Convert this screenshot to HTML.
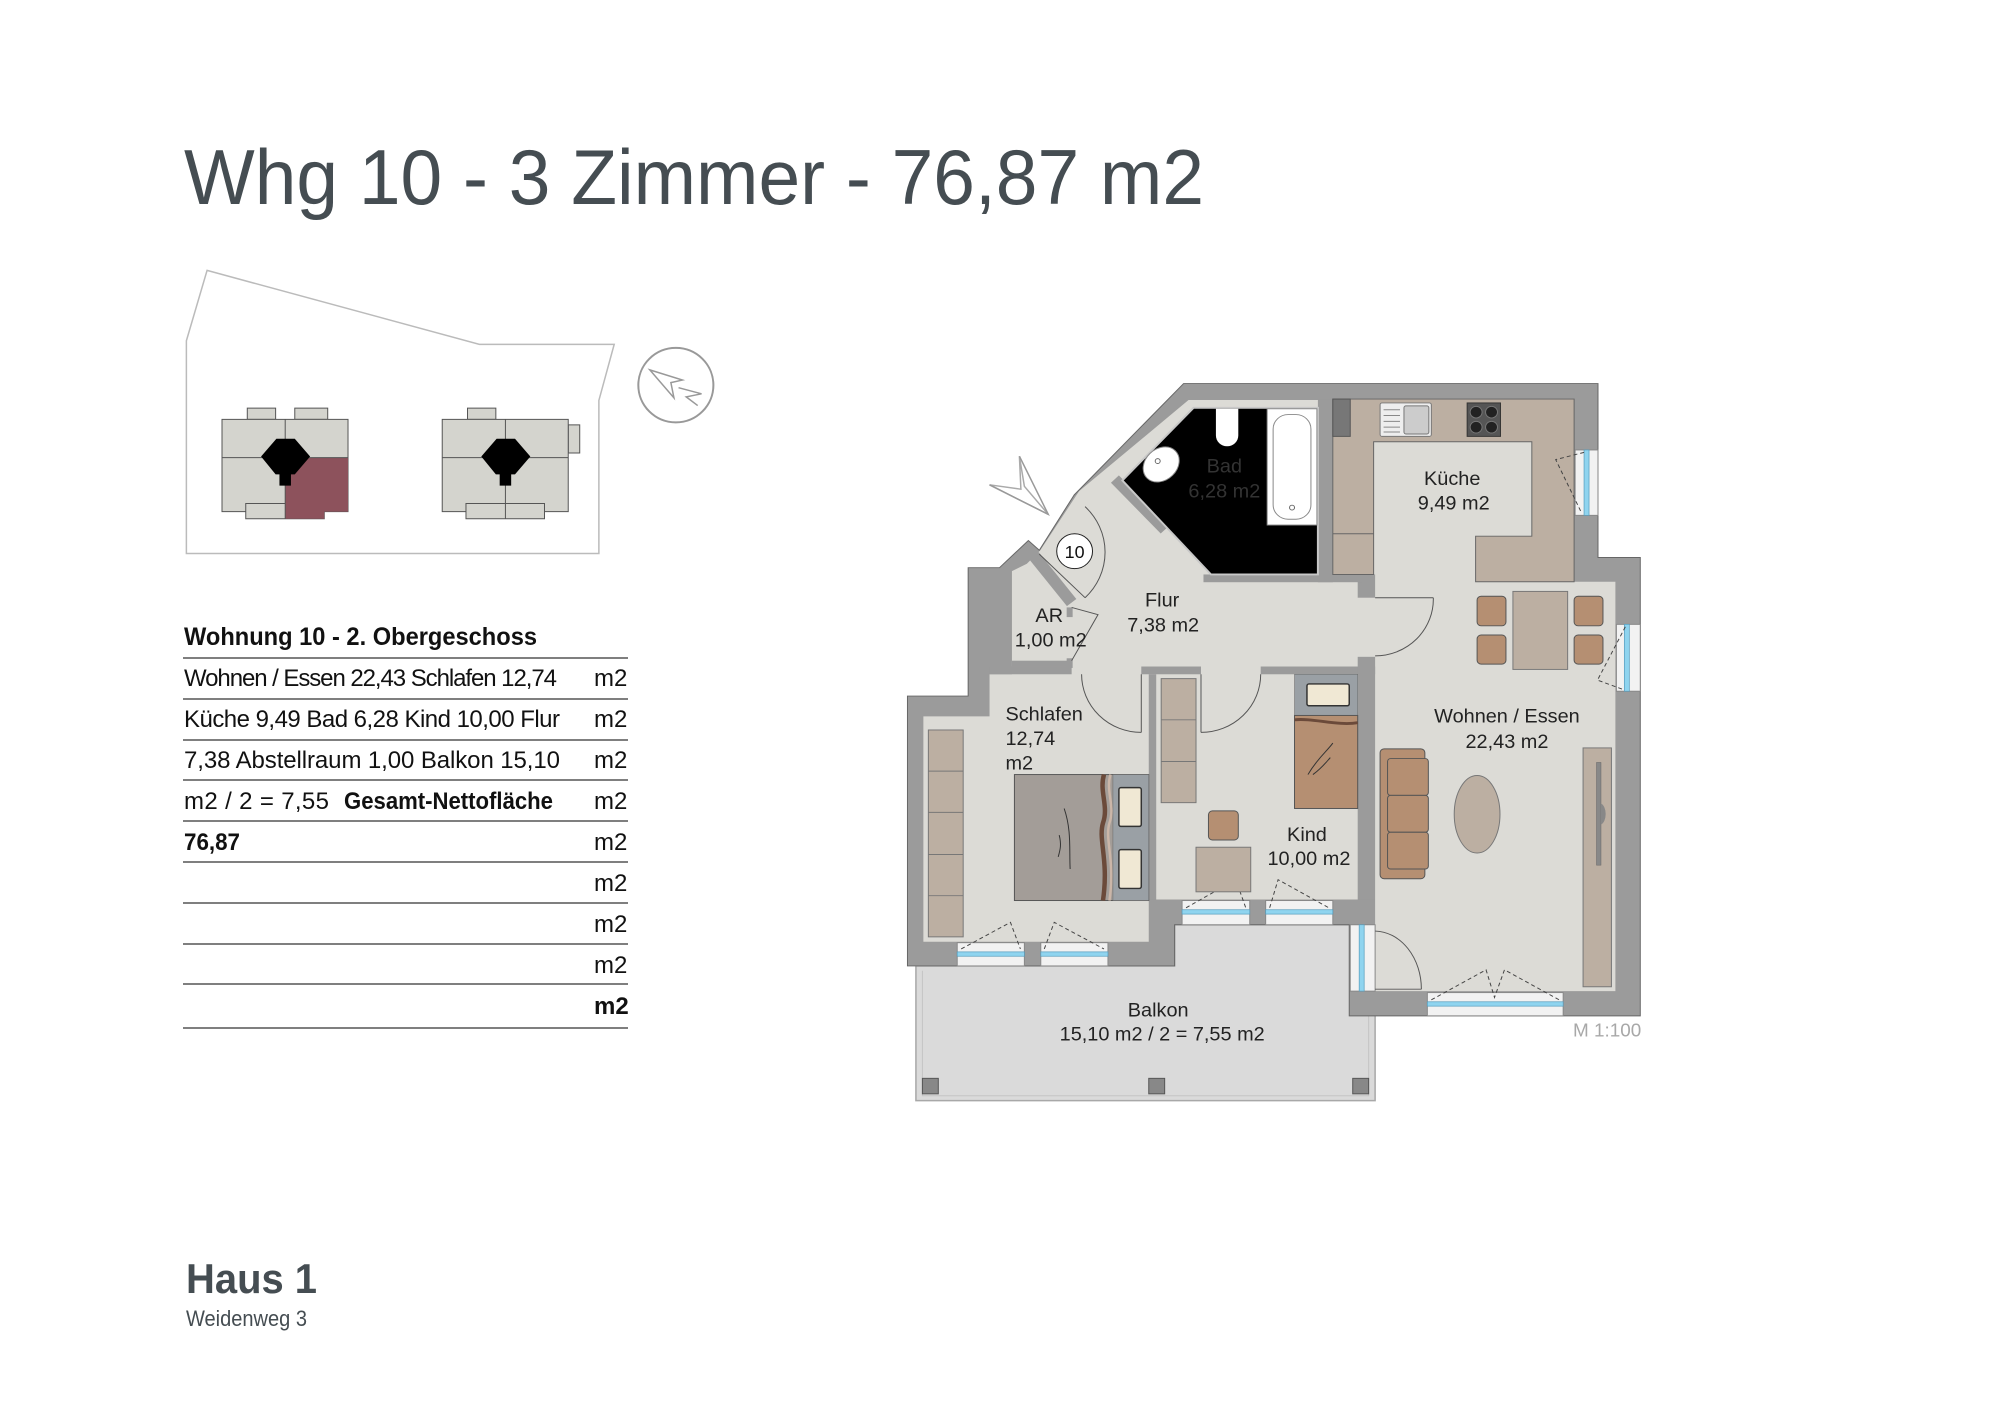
<!DOCTYPE html>
<html><head><meta charset="utf-8"><style>
html,body{margin:0;padding:0;background:#fff;}
svg{display:block;}
text{font-family:"Liberation Sans",sans-serif;}
</style></head><body>
<svg width="2000" height="1414" viewBox="0 0 2000 1414" xmlns="http://www.w3.org/2000/svg">
<rect width="2000" height="1414" fill="#fff"/>
<text x="184" y="204" font-size="78" fill="#454d52" textLength="1020" lengthAdjust="spacingAndGlyphs">Whg 10 - 3 Zimmer - 76,87 m2</text>

<g transform="translate(150,250) scale(0.383,0.51)">
 <polygon points="149,40 860,185 1212,185 1172,295 1172,595 95,595 95,178" fill="none" stroke="#bbb" stroke-width="1.5" vector-effect="non-scaling-stroke"/>
 <g>
  <rect x="254" y="310" width="74" height="22" fill="#d4d4ce" stroke="#555" stroke-width="1" vector-effect="non-scaling-stroke"/>
  <rect x="378" y="310" width="86" height="22" fill="#d4d4ce" stroke="#555" stroke-width="1" vector-effect="non-scaling-stroke"/>
  <rect x="188" y="332" width="329" height="181" fill="#d4d4ce" stroke="#555" stroke-width="1" vector-effect="non-scaling-stroke"/>
  <rect x="250" y="497" width="205" height="30" fill="#d4d4ce" stroke="#555" stroke-width="1" vector-effect="non-scaling-stroke"/>
  <polygon points="353,407 517,407 517,513 455,513 455,527 353,527" fill="#8d525c"/>
  <line x1="188" y1="407" x2="517" y2="407" stroke="#555" stroke-width="1" vector-effect="non-scaling-stroke"/>
  <line x1="353" y1="332" x2="353" y2="527" stroke="#555" stroke-width="1" vector-effect="non-scaling-stroke"/>
  <polygon points="330,370 378,370 418,405 378,440 368,440 368,462 338,462 338,440 328,440 290,405" fill="#000"/>
 </g>
 <g transform="translate(575,0)">
  <rect x="254" y="310" width="74" height="22" fill="#d4d4ce" stroke="#555" stroke-width="1" vector-effect="non-scaling-stroke"/>
  <rect x="517" y="343" width="30" height="55" fill="#d4d4ce" stroke="#555" stroke-width="1" vector-effect="non-scaling-stroke"/>
  <rect x="188" y="332" width="329" height="181" fill="#d4d4ce" stroke="#555" stroke-width="1" vector-effect="non-scaling-stroke"/>
  <rect x="250" y="497" width="205" height="30" fill="#d4d4ce" stroke="#555" stroke-width="1" vector-effect="non-scaling-stroke"/>
  <line x1="188" y1="407" x2="517" y2="407" stroke="#555" stroke-width="1" vector-effect="non-scaling-stroke"/>
  <line x1="353" y1="332" x2="353" y2="527" stroke="#555" stroke-width="1" vector-effect="non-scaling-stroke"/>
  <polygon points="330,370 378,370 418,405 378,440 368,440 368,462 338,462 338,440 328,440 290,405" fill="#000"/>
 </g>
 <ellipse cx="1373" cy="265" rx="98" ry="73" fill="none" stroke="#999" stroke-width="2" vector-effect="non-scaling-stroke"/>
 <polygon points="1305,235 1390,255 1360,260 1368,290" fill="none" stroke="#999" stroke-width="1.5" vector-effect="non-scaling-stroke"/>
 <polyline points="1380,270 1440,282 1400,288 1430,305" fill="none" stroke="#999" stroke-width="1.5" vector-effect="non-scaling-stroke"/>
</g>

<g fill="#111" font-size="24">
 <text x="184" y="645" font-weight="bold" font-size="25" textLength="353" lengthAdjust="spacingAndGlyphs">Wohnung 10 - 2. Obergeschoss</text>
 <text x="184" y="686" textLength="373" lengthAdjust="spacing">Wohnen / Essen 22,43 Schlafen 12,74</text>
 <text x="184" y="727" textLength="376" lengthAdjust="spacing">Küche 9,49 Bad 6,28 Kind 10,00 Flur</text>
 <text x="184" y="768" textLength="376" lengthAdjust="spacing">7,38 Abstellraum 1,00 Balkon 15,10</text>
 <text x="184" y="809" textLength="145" lengthAdjust="spacing">m2 / 2 = 7,55</text>
 <text x="344" y="809" font-weight="bold" textLength="209" lengthAdjust="spacingAndGlyphs">Gesamt-Nettofläche</text>
 <text x="184" y="850" font-weight="bold" textLength="56" lengthAdjust="spacingAndGlyphs">76,87</text>
 <text x="594" y="686">m2</text>
 <text x="594" y="727">m2</text>
 <text x="594" y="768">m2</text>
 <text x="594" y="809">m2</text>
 <text x="594" y="850">m2</text>
 <text x="594" y="891">m2</text>
 <text x="594" y="932">m2</text>
 <text x="594" y="973">m2</text>
 <text x="594" y="1014" font-weight="bold">m2</text>
</g>
<g stroke="#555" stroke-width="1.5">
 <line x1="183" y1="658" x2="628" y2="658"/>
 <line x1="183" y1="699" x2="628" y2="699"/>
 <line x1="183" y1="740" x2="628" y2="740"/>
 <line x1="183" y1="780" x2="628" y2="780"/>
 <line x1="183" y1="821" x2="628" y2="821"/>
 <line x1="183" y1="862" x2="628" y2="862"/>
 <line x1="183" y1="903" x2="628" y2="903"/>
 <line x1="183" y1="944" x2="628" y2="944"/>
 <line x1="183" y1="984" x2="628" y2="984"/>
 <line x1="183" y1="1028" x2="628" y2="1028"/>
</g>

<text x="186" y="1293" font-size="42" font-weight="bold" fill="#454d52" textLength="131" lengthAdjust="spacingAndGlyphs">Haus 1</text>
<text x="186" y="1326" font-size="22" fill="#454d52" textLength="121" lengthAdjust="spacingAndGlyphs">Weidenweg 3</text>

<g transform="translate(900,370) scale(0.4975,0.4845)">
 <polygon points="32,1230 552,1230 552,1145 955,1145 955,1508 32,1508" fill="#dadada" stroke="#a8a8a8" stroke-width="3"/>
 <polyline points="45,1240 45,1498 942,1498 942,1240" fill="none" stroke="#c4c4c4" stroke-width="2"/>
 <rect x="45" y="1462" width="32" height="32" fill="#888" stroke="#555" stroke-width="2"/>
 <rect x="500" y="1462" width="32" height="32" fill="#888" stroke="#555" stroke-width="2"/>
 <rect x="910" y="1462" width="32" height="32" fill="#888" stroke="#555" stroke-width="2"/>
 <polygon points="350,258 570,28 1403,28 1403,387 1488,387 1488,1333 903,1333 903,1145 552,1145 552,1230 15,1230 15,673 137,673 137,408 200,408 258,352 280,372" fill="#9b9b9b" stroke="#666" stroke-width="2"/>
 <polygon points="282,372 360,250 580,62 1355,62 1355,437 1438,437 1438,1282 955,1282 955,1093 500,1093 500,1180 47,1180 47,715 180,715 180,628 225,628 225,415 255,400" fill="#dcdbd6"/>
 <g fill="#9b9b9b">
  <rect x="180" y="612" width="165" height="16"/>
  <rect x="485" y="612" width="120" height="16"/>
  <rect x="725" y="612" width="230" height="16"/>
  <rect x="500" y="628" width="15" height="465"/>
  <rect x="920" y="592" width="35" height="501"/>
  <rect x="920" y="422" width="35" height="48"/>
  <rect x="610" y="422" width="320" height="16"/>
  <rect x="840" y="60" width="30" height="378"/>
  <rect x="225" y="600" width="120" height="12"/>
  <rect x="335" y="490" width="12" height="20"/>
  <rect x="335" y="595" width="12" height="20"/>
 </g>
 <line x1="265" y1="378" x2="345" y2="480" stroke="#9b9b9b" stroke-width="24"/>
 <line x1="432" y1="225" x2="532" y2="330" stroke="#9b9b9b" stroke-width="22"/>
 <polygon points="447,228 590,78 840,78 840,422 625,422" fill="#000" stroke="#c8c8c8" stroke-width="4"/>
 <rect x="738" y="80" width="100" height="240" fill="#fff" stroke="#888" stroke-width="2"/>
 <rect x="750" y="92" width="76" height="216" rx="30" fill="#fff" stroke="#888" stroke-width="2"/>
 <circle cx="788" cy="284" r="5" fill="none" stroke="#666" stroke-width="2"/>
 <path d="M635,80 L680,80 L680,135 A22,22 0 0 1 635,135 Z" fill="#fff"/>
 <ellipse cx="525" cy="195" rx="40" ry="32" transform="rotate(-45 525 195)" fill="#fff" stroke="#888" stroke-width="2"/>
 <circle cx="518" cy="188" r="5" fill="none" stroke="#666" stroke-width="2"/>
 <text x="652" y="212" font-size="40" fill="#333" text-anchor="middle">Bad</text>
 <text x="652" y="263" font-size="40" fill="#333" text-anchor="middle">6,28 m2</text>
 <polygon points="870,60 1355,60 1355,437 1157,437 1157,343 1270,343 1270,148 952,148 952,422 870,422" fill="#bcafa2" stroke="#666" stroke-width="2"/>
 <line x1="870" y1="338" x2="952" y2="338" stroke="#666" stroke-width="2"/>
 <rect x="870" y="60" width="35" height="77" fill="#777" stroke="#555" stroke-width="2"/>
 <rect x="965" y="68" width="103" height="69" rx="4" fill="#eee" stroke="#777" stroke-width="2"/>
 <rect x="1013" y="74" width="50" height="58" rx="4" fill="#ccc" stroke="#777" stroke-width="2"/>
 <g stroke="#888" stroke-width="2"><line x1="972" y1="82" x2="1005" y2="82"/><line x1="972" y1="94" x2="1005" y2="94"/><line x1="972" y1="106" x2="1005" y2="106"/><line x1="972" y1="118" x2="1005" y2="118"/><line x1="972" y1="128" x2="1005" y2="128"/></g>
 <rect x="1140" y="68" width="67" height="69" fill="#555" stroke="#333" stroke-width="2"/>
 <g fill="#222" stroke="#777" stroke-width="2"><circle cx="1158" cy="87" r="12"/><circle cx="1189" cy="87" r="12"/><circle cx="1158" cy="118" r="12"/><circle cx="1189" cy="118" r="12"/></g>
 <text x="1110" y="237" font-size="40" fill="#222" text-anchor="middle">Küche</text>
 <text x="1113" y="288" font-size="40" fill="#222" text-anchor="middle">9,49 m2</text>
 <g fill="#f2f2f2" stroke="#888" stroke-width="2">
  <rect x="1357" y="165" width="46" height="135"/>
  <rect x="1440" y="525" width="48" height="138"/>
  <rect x="567" y="1095" width="136" height="50"/>
  <rect x="735" y="1095" width="135" height="50"/>
  <rect x="115" y="1182" width="135" height="48"/>
  <rect x="283" y="1182" width="135" height="48"/>
  <rect x="1060" y="1285" width="273" height="48"/>
  <rect x="905" y="1145" width="50" height="137"/>
 </g>
 <g fill="#8fd4ef" stroke="#5a9fbf" stroke-width="1.5">
  <rect x="1375" y="165" width="10" height="135"/>
  <rect x="1456" y="525" width="10" height="138"/>
  <rect x="567" y="1114" width="136" height="9"/>
  <rect x="735" y="1114" width="135" height="9"/>
  <rect x="115" y="1201" width="135" height="9"/>
  <rect x="283" y="1201" width="135" height="9"/>
  <rect x="1060" y="1304" width="273" height="9"/>
  <rect x="923" y="1145" width="10" height="137"/>
 </g>
 <g fill="none" stroke="#444" stroke-width="2" stroke-dasharray="8,6">
  <polyline points="1375,170 1318,185 1370,295"/>
  <polyline points="1458,530 1402,640 1455,660"/>
  <polyline points="575,1110 675,1052 695,1110"/>
  <polyline points="743,1110 760,1052 862,1110"/>
  <polyline points="123,1195 222,1140 242,1195"/>
  <polyline points="290,1195 310,1140 410,1195"/>
  <polyline points="1068,1300 1178,1238 1195,1295 1215,1238 1325,1300"/>
 </g>
 <g fill="none" stroke="#555" stroke-width="2">
  <path d="M1072,470 A117,117 0 0 1 955,590"/>
  <line x1="955" y1="470" x2="1072" y2="470"/>
  <path d="M365,628 A120,120 0 0 0 485,748"/>
  <line x1="485" y1="628" x2="485" y2="748"/>
  <path d="M725,628 A120,120 0 0 1 605,748"/>
  <line x1="605" y1="628" x2="605" y2="748"/>
  <path d="M955,1158 A95,120 0 0 1 1048,1278"/>
  <line x1="955" y1="1278" x2="1048" y2="1278"/>
  <path d="M372,282 A130,130 0 0 1 372,470"/>
  <line x1="280" y1="380" x2="372" y2="470"/>
  <path d="M345,490 L398,505 L345,600"/>
 </g>
 <polygon points="240,178 250,240 298,298 180,237 243,246" fill="#fff" stroke="#aaa" stroke-width="3"/>
 <polyline points="240,178 298,298 180,237" fill="none" stroke="#999" stroke-width="3"/>
 <circle cx="351" cy="374" r="36" fill="#fff" stroke="#222" stroke-width="2"/>
 <text x="351" y="388" font-size="36" fill="#111" text-anchor="middle">10</text>
 <text x="527" y="488" font-size="40" fill="#222" text-anchor="middle">Flur</text>
 <text x="529" y="540" font-size="40" fill="#222" text-anchor="middle">7,38 m2</text>
 <text x="300" y="520" font-size="40" fill="#222" text-anchor="middle">AR</text>
 <text x="303" y="571" font-size="40" fill="#222" text-anchor="middle">1,00 m2</text>
 <rect x="57" y="743" width="70" height="427" fill="#bcafa2" stroke="#777" stroke-width="2"/>
 <g stroke="#777" stroke-width="2"><line x1="57" y1="828" x2="127" y2="828"/><line x1="57" y1="913" x2="127" y2="913"/><line x1="57" y1="1000" x2="127" y2="1000"/><line x1="57" y1="1085" x2="127" y2="1085"/></g>
 <rect x="230" y="835" width="270" height="260" fill="#a39d98" stroke="#555" stroke-width="2"/>
 <rect x="428" y="835" width="72" height="260" fill="#9aa0a5" stroke="#666" stroke-width="1"/>
 <path d="M410,835 C400,870 420,900 408,935 C398,970 420,1010 408,1095" fill="none" stroke="#6b4a3a" stroke-width="9"/>
 <path d="M423,835 C413,870 433,900 421,935 C411,970 433,1010 421,1095" fill="none" stroke="#cbb6a8" stroke-width="5"/>
 <rect x="440" y="862" width="45" height="80" rx="4" fill="#f0e8d4" stroke="#333" stroke-width="3"/>
 <rect x="440" y="990" width="45" height="80" rx="4" fill="#f0e8d4" stroke="#333" stroke-width="3"/>
 <path d="M330,905 C345,950 340,990 342,1030 M320,960 C325,980 322,990 318,1005" fill="none" stroke="#333" stroke-width="2"/>
 <text x="212" y="723" font-size="40" fill="#222">Schlafen</text>
 <text x="212" y="774" font-size="40" fill="#222">12,74</text>
 <text x="212" y="825" font-size="40" fill="#222">m2</text>
 <rect x="525" y="637" width="70" height="256" fill="#bcafa2" stroke="#777" stroke-width="2"/>
 <g stroke="#777" stroke-width="2"><line x1="525" y1="722" x2="595" y2="722"/><line x1="525" y1="808" x2="595" y2="808"/></g>
 <rect x="793" y="628" width="127" height="277" fill="#9aa0a5" stroke="#666" stroke-width="1"/>
 <rect x="793" y="713" width="127" height="192" fill="#b58f72" stroke="#555" stroke-width="2"/>
 <path d="M793,722 C830,718 880,735 920,728" fill="none" stroke="#6b4a3a" stroke-width="6"/>
 <rect x="818" y="648" width="85" height="45" rx="4" fill="#f0e8d4" stroke="#333" stroke-width="3"/>
 <path d="M820,835 C840,800 860,785 870,770 M830,835 C850,820 860,805 865,800" fill="none" stroke="#333" stroke-width="2"/>
 <rect x="620" y="910" width="60" height="60" rx="8" fill="#b58f72" stroke="#555" stroke-width="2"/>
 <rect x="595" y="985" width="110" height="92" fill="#bcafa2" stroke="#777" stroke-width="2"/>
 <text x="818" y="972" font-size="40" fill="#222" text-anchor="middle">Kind</text>
 <text x="822" y="1022" font-size="40" fill="#222" text-anchor="middle">10,00 m2</text>
 <rect x="1232" y="457" width="110" height="161" fill="#bcafa2" stroke="#777" stroke-width="2"/>
 <g fill="#b58f72" stroke="#555" stroke-width="2">
  <rect x="1160" y="467" width="58" height="61" rx="8"/>
  <rect x="1160" y="547" width="58" height="60" rx="8"/>
  <rect x="1355" y="467" width="58" height="61" rx="8"/>
  <rect x="1355" y="547" width="58" height="60" rx="8"/>
  <rect x="965" y="782" width="90" height="268" rx="8"/>
  <rect x="980" y="802" width="82" height="76" rx="6"/>
  <rect x="980" y="878" width="82" height="76" rx="6"/>
  <rect x="980" y="954" width="82" height="76" rx="6"/>
 </g>
 <ellipse cx="1160" cy="917" rx="46" ry="80" fill="#bcafa2" stroke="#777" stroke-width="2"/>
 <rect x="1373" y="780" width="57" height="493" fill="#bcafa2" stroke="#777" stroke-width="2"/>
 <rect x="1400" y="810" width="9" height="212" fill="#888" stroke="#666" stroke-width="1"/>
 <path d="M1409,895 A12,22 0 0 1 1409,938" fill="#888"/>
 <text x="1220" y="728" font-size="40" fill="#222" text-anchor="middle">Wohnen / Essen</text>
 <text x="1220" y="780" font-size="40" fill="#222" text-anchor="middle">22,43 m2</text>
 <text x="519" y="1334" font-size="40" fill="#222" text-anchor="middle">Balkon</text>
 <text x="527" y="1384" font-size="40" fill="#222" text-anchor="middle">15,10 m2 / 2 = 7,55 m2</text>
 <text x="1490" y="1376" font-size="38" fill="#a8a8a8" text-anchor="end">M 1:100</text>
</g>
</svg>
</body></html>
